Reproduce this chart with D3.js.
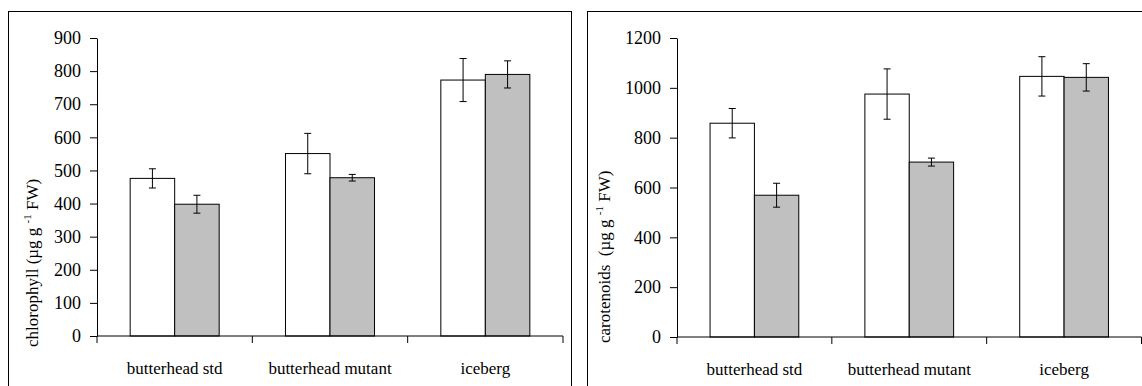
<!DOCTYPE html>
<html>
<head>
<meta charset="utf-8">
<script src="https://cdn.jsdelivr.net/npm/d3@7"></script>
<style>
  body { margin: 0; background: #fff; }
</style>
</head>
<body>
<div class="vis"></div>
<script>
// data
const categories = ["butterhead std", "butterhead mutant", "iceberg"];
const series = ["white", "grey"];

const chlWhite = [476, 551, 773];
const chlWhiteErr = [29, 61, 65];
const chlGrey = [398, 478, 790];
const chlGreyErr = [27, 10, 41];

const carWhite = [858, 975, 1046];
const carWhiteErr = [59, 101, 79];
const carGrey = [569, 702, 1042];
const carGreyErr = [48, 16, 55];

const chlTicks = [0, 100, 200, 300, 400, 500, 600, 700, 800, 900];
const carTicks = [0, 200, 400, 600, 800, 1000, 1200];

const colors = { white: "#ffffff", grey: "#c0c0c0" };
const FONT = "'Liberation Serif', 'Times New Roman', Times, serif";

const svg = d3.select(".vis")
    .append("svg")
    .attr("width", 1142)
    .attr("height", 386)
    .style("font-family", FONT);

const drawPanel = (p) => {
    // outer frame (bottom / right run off the picture)
    svg.append("rect")
        .attr("x", p.frame[0] + 0.5)
        .attr("y", p.frame[1] + 0.5)
        .attr("width", p.frame[2])
        .attr("height", 420)
        .attr("fill", "none")
        .attr("stroke", "#000")
        .attr("stroke-width", 1);

    let x = d3.scaleBand()
        .domain(categories)
        .range([p.left, p.right])
        .paddingInner(0)
        .paddingOuter(0);
    let xs = d3.scaleBand()
        .domain(series)
        .range([0, x.bandwidth()])
        .paddingInner(0)
        .paddingOuter(0.745);
    let y = d3.scaleLinear()
        .domain([0, p.max])
        .range([p.bottom, p.top]);

    let rows = categories.map((c, i) => ({
        cat: c,
        vals: [
            { s: "white", v: p.white[i], e: p.whiteErr[i] },
            { s: "grey", v: p.grey[i], e: p.greyErr[i] }
        ]
    }));

    // bars
    let g = svg.append("g")
        .selectAll("g")
        .data(rows)
        .enter()
        .append("g")
        .attr("transform", d => "translate(" + x(d.cat) + ",0)");

    g.selectAll("rect")
        .data(d => d.vals)
        .enter()
        .append("rect")
        .attr("x", d => xs(d.s))
        .attr("y", d => y(d.v))
        .attr("width", xs.bandwidth())
        .attr("height", d => y(0) - y(d.v))
        .attr("fill", d => colors[d.s])
        .attr("stroke", "#000")
        .attr("stroke-width", 1);

    // error bars
    let eb = g.selectAll("g.err")
        .data(d => d.vals)
        .enter()
        .append("g")
        .attr("class", "err")
        .attr("stroke", "#000")
        .attr("stroke-width", 1);
    eb.append("line")
        .attr("x1", d => xs(d.s) + xs.bandwidth() / 2)
        .attr("x2", d => xs(d.s) + xs.bandwidth() / 2)
        .attr("y1", d => y(d.v + d.e))
        .attr("y2", d => y(d.v - d.e));
    eb.append("line")
        .attr("x1", d => xs(d.s) + xs.bandwidth() / 2 - 3.5)
        .attr("x2", d => xs(d.s) + xs.bandwidth() / 2 + 3.5)
        .attr("y1", d => y(d.v + d.e))
        .attr("y2", d => y(d.v + d.e));
    eb.append("line")
        .attr("x1", d => xs(d.s) + xs.bandwidth() / 2 - 3.5)
        .attr("x2", d => xs(d.s) + xs.bandwidth() / 2 + 3.5)
        .attr("y1", d => y(d.v - d.e))
        .attr("y2", d => y(d.v - d.e));

    // y axis
    let ya = svg.append("g")
        .attr("transform", "translate(" + p.left + ",0)")
        .call(d3.axisLeft(y).tickValues(p.ticks).tickFormat(d3.format("d"))
            .tickSize(7).tickPadding(9).tickSizeOuter(0));
    ya.attr("font-family", null).attr("font-size", null);
    ya.selectAll("text").style("font-family", FONT).style("font-size", "18px");
    ya.selectAll("line, path").attr("stroke", "#000");

    // x axis: ticks at category boundaries
    let xa = svg.append("g")
        .attr("transform", "translate(0," + p.bottom + ")");
    xa.append("line")
        .attr("x1", p.left).attr("x2", p.right)
        .attr("stroke", "#000");
    xa.selectAll("line.tk")
        .data(categories.concat(["end"]))
        .enter()
        .append("line")
        .attr("class", "tk")
        .attr("x1", (d, i) => p.left + i * x.step())
        .attr("x2", (d, i) => p.left + i * x.step())
        .attr("y1", 0).attr("y2", 7)
        .attr("stroke", "#000");
    xa.selectAll("text")
        .data(categories)
        .enter()
        .append("text")
        .attr("x", d => x(d) + x.bandwidth() / 2)
        .attr("y", 38)
        .attr("text-anchor", "middle")
        .style("font-family", FONT)
        .style("font-size", "17px")
        .text(d => d);

    // y label
    let lab = svg.append("text")
        .attr("transform", "translate(" + p.labelX + "," + p.labelY + ") rotate(-90)")
        .style("font-family", FONT)
        .style("font-size", "17px")
        .style("white-space", "pre");
    lab.append("tspan").text(p.label);
    lab.append("tspan").style("font-size", "11px").attr("dy", -7).text("-1");
    lab.append("tspan").attr("dy", 7).text(" FW)");
};

drawPanel({
    frame: [8, 11, 563], left: 97, right: 563, top: 38, bottom: 336, max: 900,
    ticks: chlTicks, white: chlWhite, whiteErr: chlWhiteErr, grey: chlGrey, greyErr: chlGreyErr,
    label: "chlorophyll (\u00b5g g ", labelX: 38, labelY: 347
});

drawPanel({
    frame: [587, 11, 600], left: 677, right: 1141.5, top: 38, bottom: 337, max: 1200,
    ticks: carTicks, white: carWhite, whiteErr: carWhiteErr, grey: carGrey, greyErr: carGreyErr,
    label: "carotenoids  (\u00b5g g ", labelX: 610, labelY: 343
});
</script>
</body>
</html>
